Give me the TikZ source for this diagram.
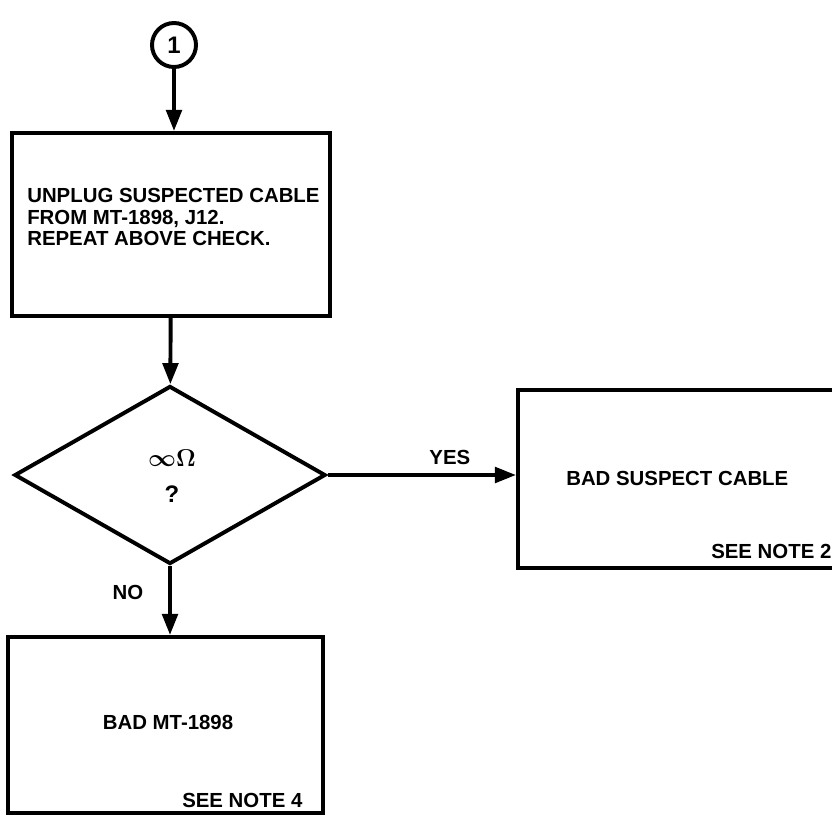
\documentclass[tikz,border=0pt]{standalone}
\usepackage{fontspec}
\setmainfont{Liberation Sans}
\usetikzlibrary{arrows.meta,shapes.geometric}
\tikzset{
  flow/.style={line width=2.8pt,-{Triangle[length=15pt,width=11pt]}},
  box/.style={draw,line width=2.8pt,rectangle,inner sep=0pt},
  txt/.style={font=\fontsize{14.5}{15}\selectfont\bfseries,inner sep=0pt},
}
\begin{document}
\begin{tikzpicture}[x=0.025cm,y=-0.025cm]
\useasboundingbox (0,0) rectangle (832,815);
% coordinates
\coordinate (C1) at (174, 45);%
\coordinate (B1) at (171,224.5);%
\coordinate (D)  at (170,475);%
\coordinate (B2) at (681.5,479);%
\coordinate (B3) at (165.5,725);%
% connector circle
\node[draw,circle,line width=2.8pt,minimum size=1.1cm,inner sep=0pt,txt,font=\fontsize{17}{17}\selectfont\bfseries] (circ) at (C1) {1};
% boxes
\node[box,minimum width=7.95cm,minimum height=4.575cm] (check) at (B1) {};
\node[diamond,draw,line width=2.8pt,minimum width=7.775cm,minimum height=4.45cm,inner sep=0pt] (ohm) at (D) {};
\node[box,minimum width=8.175cm,minimum height=4.45cm] (cable) at (B2) {};
\node[box,minimum width=7.875cm,minimum height=4.4cm] (mt) at (B3) {};
% texts
\node[txt,anchor=west,align=left] (checktxt) at (27,217)
  {UNPLUG SUSPECTED CABLE\\FROM MT-1898, J12.\\REPEAT ABOVE CHECK.};
\node[txt,font=\fontsize{17}{26}\selectfont\bfseries\boldmath,align=center] (ohmtxt) at (172,476) {$\infty\Omega$\\?};
\node[txt,anchor=west] (cabletxt) at (566,478) {BAD SUSPECT CABLE};
\node[txt,anchor=west] (note2) at (711,551) {SEE NOTE 2};
\node[txt] (mttxt) at (168,722) {BAD MT-1898};
\node[txt,anchor=west] (note4) at (182,800) {SEE NOTE 4};
% flow
\draw[flow] (circ) -- (circ |- check.north);
\draw[flow] (check) -- (ohm);
\draw[flow] (ohm.east) -- (ohm.east -| cable.west) node[txt,midway,above=6pt,xshift=20pt] (yes) {YES};
\draw[flow] (ohm.south) -- (ohm.south |- mt.north);
\node[txt] (no) at (128,592) {NO};
\end{tikzpicture}
\end{document}
